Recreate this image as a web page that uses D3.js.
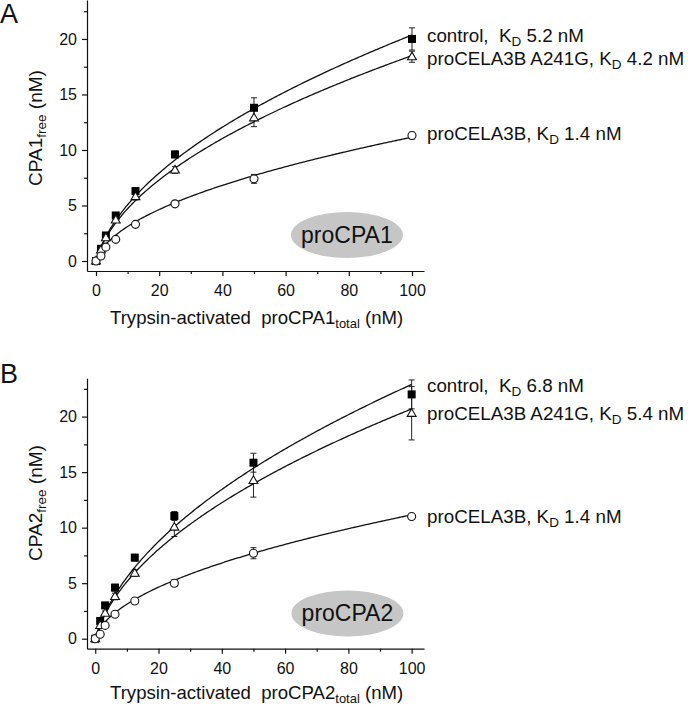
<!DOCTYPE html>
<html>
<head>
<meta charset="utf-8">
<script src="https://cdn.jsdelivr.net/npm/d3@7"></script>
<style>
  html, body { margin: 0; padding: 0; background: #fff; }
  svg { display: block; font-family: "Liberation Sans", Arial, sans-serif; }
</style>
</head>
<body>
<svg id="chart" width="693" height="707"></svg>
<script>
// ---------------- data ----------------
const concentrations = [0, 1.5625, 3.125, 6.25, 12.5, 25, 50, 100];
const xTicks = [0, 20, 40, 60, 80, 100];
const yTicks = [0, 5, 10, 15, 20];
const yMinorTicks = [2.5, 7.5, 12.5, 17.5, 22.5];
const xMinorTicks = [10, 30, 50, 70, 90];

// Panel A (proCPA1)
const a_control      = [0, 1.1, 2.3, 4.1, 6.3, 9.6, 13.8, 20.0];
const a_control_err  = [0, 0.2, 0.2, 0.2, 0.3, 0.3, 0.9, 1.0];
const a_a241g        = [0, 1.0, 2.1, 3.7, 5.8, 8.2, 12.9, 18.4];
const a_a241g_err    = [0, 0.2, 0.2, 0.2, 0.3, 0.3, 0.8, 0.5];
const a_cela3b       = [0, 0.45, 1.25, 1.95, 3.3, 5.15, 7.4, 11.3];
const a_cela3b_err   = [0, 0.1, 0.1, 0.1, 0.1, 0.2, 0.4, 0.3];
const a_kd           = [5.2, 4.2, 1.4];

// Panel B (proCPA2)
const b_control      = [0, 1.6, 3.0, 4.6, 7.3, 11.05, 15.85, 22.0];
const b_control_err  = [0, 0.2, 0.2, 0.3, 0.3, 0.4, 0.85, 1.3];
const b_a241g        = [0, 1.2, 2.3, 3.8, 5.9, 10.05, 14.25, 20.3];
const b_a241g_err    = [0, 0.2, 0.2, 0.3, 0.3, 0.85, 1.5, 2.4];
const b_cela3b       = [0, 0.4, 1.2, 2.2, 3.4, 5.0, 7.7, 11.0];
const b_cela3b_err   = [0, 0.1, 0.1, 0.1, 0.2, 0.3, 0.5, 0.2];
const b_kd           = [6.8, 5.4, 1.4];

const seriesNames = ["control", "proCELA3B A241G", "proCELA3B"];

// ---------------- drawing ----------------
const svg = d3.select("#chart");
const FONT = '"Liberation Sans", Arial, sans-serif';

// fitted binding curve (equimolar): free^2/(total-free) = Kd
function fitFree(x, kd) { return (-kd + Math.sqrt(kd * kd + 4 * kd * x)) / 2; }

function drawPanel(cfg) {
  const g = svg.append("g");
  const x = d3.scaleLinear().domain(cfg.xDomain).range([87, 424]);
  const y = d3.scaleLinear().domain(cfg.yDomain).range([cfg.yBottom, cfg.yTop]);

  // axes
  const yAxis = d3.axisLeft(y).tickValues(yTicks).tickSize(5).tickSizeOuter(0).tickPadding(5);
  const ya = g.append("g").attr("transform", "translate(87,0)").call(yAxis);
  ya.selectAll("text").attr("font-size", 16).attr("font-family", FONT).attr("fill", "#111");
  ya.selectAll("line,path").attr("stroke", "#111").attr("stroke-width", 1.2);
  const yMin = d3.axisLeft(y).tickValues(yMinorTicks).tickSize(3).tickSizeOuter(0).tickFormat("");
  const ym = g.append("g").attr("transform", "translate(87,0)").call(yMin);
  ym.select("path").remove();
  ym.selectAll("line").attr("stroke", "#111").attr("stroke-width", 1.2);

  const xAxis = d3.axisBottom(x).tickValues(xTicks).tickSize(5).tickSizeOuter(0).tickPadding(9);
  const xa = g.append("g").attr("transform", `translate(0,${cfg.yBottom})`).call(xAxis);
  xa.selectAll("text").attr("font-size", 16).attr("font-family", FONT).attr("fill", "#111");
  xa.selectAll("line,path").attr("stroke", "#111").attr("stroke-width", 1.2);
  const xMin = d3.axisBottom(x).tickValues(xMinorTicks).tickSize(3).tickSizeOuter(0).tickFormat("");
  const xm = g.append("g").attr("transform", `translate(0,${cfg.yBottom})`).call(xMin);
  xm.select("path").remove();
  xm.selectAll("line").attr("stroke", "#111").attr("stroke-width", 1.2);

  // ellipse label
  g.append("ellipse")
    .attr("cx", x(cfg.ellipse[0])).attr("cy", y(cfg.ellipse[1]))
    .attr("rx", 56).attr("ry", 23).attr("fill", "#c6c6c6");
  g.append("text")
    .attr("x", x(cfg.ellipse[0])).attr("y", y(cfg.ellipse[1]) + 8)
    .attr("text-anchor", "middle").attr("font-size", 23).attr("font-family", FONT)
    .attr("fill", "#111").text(cfg.ellipseLabel);

  // error bars
  cfg.series.forEach(s => {
    concentrations.forEach((c, i) => {
      const e = s.err[i];
      if (e < 0.15) return;
      const cx = x(c), y1 = y(s.vals[i] - e), y2 = y(s.vals[i] + e);
      g.append("line").attr("x1", cx).attr("x2", cx).attr("y1", y1).attr("y2", y2)
        .attr("stroke", "#222").attr("stroke-width", 1);
      [y1, y2].forEach(yy => g.append("line").attr("x1", cx - 3).attr("x2", cx + 3)
        .attr("y1", yy).attr("y2", yy).attr("stroke", "#222").attr("stroke-width", 1));
    });
  });

  // fitted curves
  const line = d3.line().x(d => x(d[0])).y(d => y(d[1]));
  cfg.series.forEach(s => {
    const pts = d3.range(0, 100.01, 0.5).map(t => [t, fitFree(t, s.kd)]);
    g.append("path").attr("d", line(pts)).attr("fill", "none")
      .attr("stroke", "#111").attr("stroke-width", 1.3);
  });

  // markers
  cfg.series.forEach(s => {
    concentrations.forEach((c, i) => {
      const cx = x(c), cy = y(s.vals[i]);
      if (s.shape === "square") {
        g.append("rect").attr("x", cx - 4).attr("y", cy - 4).attr("width", 8).attr("height", 8)
          .attr("fill", "#000");
      } else if (s.shape === "triangle") {
        g.append("path").attr("d", d3.symbol(d3.symbolTriangle, 34)())
          .attr("transform", `translate(${cx},${cy + 0.5})`)
          .attr("fill", "#fff").attr("stroke", "#111").attr("stroke-width", 1.1);
      } else {
        g.append("circle").attr("cx", cx).attr("cy", cy).attr("r", 4)
          .attr("fill", "#fff").attr("stroke", "#111").attr("stroke-width", 1.1);
      }
    });
  });

  // annotations at the end of each curve
  cfg.series.forEach((s, k) => {
    const t = g.append("text").attr("x", 427).attr("y", cfg.labelY[k])
      .attr("font-size", 18.8).attr("font-family", FONT).attr("fill", "#111");
    t.append("tspan").text(s.label + ", " + (k === 0 ? "\u00a0" : "") + "K");
    t.append("tspan").attr("font-size", 13.5).attr("dy", 4).text("D");
    t.append("tspan").attr("dy", -4).text(" " + s.kd.toFixed(1) + " nM");
  });

  // axis titles
  const yl = g.append("text")
    .attr("transform", `translate(42,${cfg.yLabelCenter}) rotate(-90)`)
    .attr("text-anchor", "middle").attr("font-size", 19).attr("font-family", FONT).attr("fill", "#111");
  yl.append("tspan").text(cfg.yLabelMain);
  yl.append("tspan").attr("font-size", 13.5).attr("dy", 4).text("free");
  yl.append("tspan").attr("dy", -4).text(" (nM)");

  const xl = g.append("text").attr("x", 110).attr("y", cfg.xLabelY)
    .attr("font-size", 18.6).attr("font-family", FONT).attr("fill", "#111");
  xl.append("tspan").text("Trypsin-activated\u00a0\u00a0" + cfg.xLabelMain);
  xl.append("tspan").attr("font-size", 13).attr("dy", 4).text("total");
  xl.append("tspan").attr("dy", -4).text(" (nM)");

  // panel letter
  g.append("text").attr("x", 0).attr("y", cfg.letterY).attr("font-size", 27)
    .attr("font-family", FONT).attr("fill", "#111").text(cfg.letter);
}

drawPanel({
  letter: "A", letterY: 23,
  xDomain: [-2.85, 103.8], yDomain: [-0.9, 23.5], yBottom: 271, yTop: 0.1,
  ellipse: [79.4, 2.34], ellipseLabel: "proCPA1",
  yLabelMain: "CPA1", yLabelCenter: 128, xLabelMain: "proCPA1", xLabelY: 324,
  labelY: [42, 65, 140],
  series: [
    { label: seriesNames[0], vals: a_control, err: a_control_err, kd: a_kd[0], shape: "square" },
    { label: seriesNames[1], vals: a_a241g, err: a_a241g_err, kd: a_kd[1], shape: "triangle" },
    { label: seriesNames[2], vals: a_cela3b, err: a_cela3b_err, kd: a_kd[2], shape: "circle" }
  ]
});

drawPanel({
  letter: "B", letterY: 383,
  xDomain: [-2.6, 103.9], yDomain: [-0.9, 23.45], yBottom: 648.7, yTop: 378.3,
  ellipse: [79.7, 2.28], ellipseLabel: "proCPA2",
  yLabelMain: "CPA2", yLabelCenter: 503, xLabelMain: "proCPA2", xLabelY: 699,
  labelY: [392, 420, 523],
  series: [
    { label: seriesNames[0], vals: b_control, err: b_control_err, kd: b_kd[0], shape: "square" },
    { label: seriesNames[1], vals: b_a241g, err: b_a241g_err, kd: b_kd[1], shape: "triangle" },
    { label: seriesNames[2], vals: b_cela3b, err: b_cela3b_err, kd: b_kd[2], shape: "circle" }
  ]
});
</script>
</body>
</html>
